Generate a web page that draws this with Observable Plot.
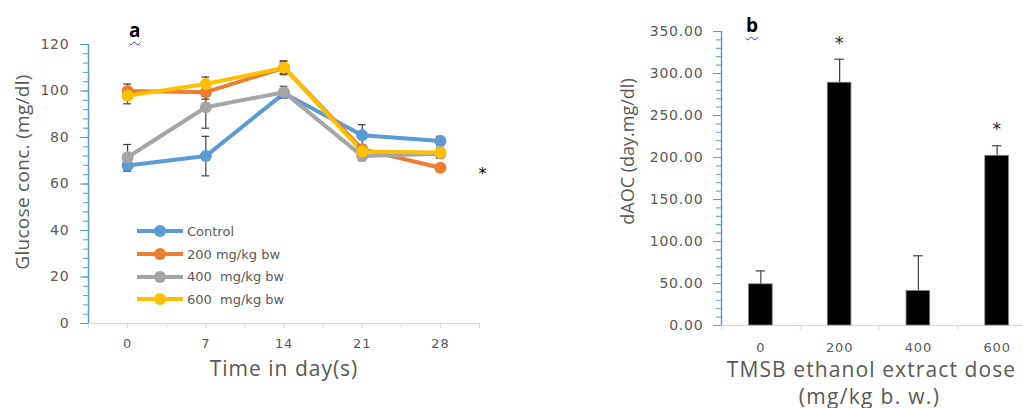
<!DOCTYPE html>
<html>
<head>
<meta charset="utf-8">
<script src="https://cdn.jsdelivr.net/npm/d3@7"></script>
<script src="https://cdn.jsdelivr.net/npm/@observablehq/plot@0.6"></script>
<style>
  html, body { margin: 0; padding: 0; background: #fff; }
  #wrap { position: relative; width: 1023px; height: 408px; overflow: hidden; font-family: "Open Sans", sans-serif; }
  #left { position: absolute; left: 0; top: 0; width: 500px; }
  #right { position: absolute; left: 600px; top: 0; width: 440px; }
  #left svg, #right svg { max-width: none !important; }
  .panel { position: absolute; font-weight: bold; font-size: 19px; color: #000; text-decoration: underline wavy #2a2aff; text-decoration-thickness: 1px; text-underline-offset: 4px; }
  #legend { position: absolute; left: 135px; top: 220px; font-family: "DejaVu Sans", sans-serif; font-size: 13px; color: #595959; }
  .li { display: flex; align-items: center; height: 22.7px; white-space: pre; }
  .li svg { margin-right: 2px; }
</style>
</head>
<body>
<div id="wrap">
  <div id="left"></div>
  <div id="right"></div>
  <div class="panel" style="left:129px; top:17px;">a</div>
  <div class="panel" style="left:746px; top:12px;">b</div>
  <div id="legend"></div>
</div>
<script>
// ---- Panel a data ----
const days = [0, 7, 14, 21, 28];
const seriesNames = ["Control", "200 mg/kg bw", "400  mg/kg bw", "600  mg/kg bw"];
const seriesColors = ["#5B9BD5", "#ED7D31", "#A5A5A5", "#FFC000"];
const control = [68, 72, 99, 81, 78.5];
const dose200 = [100, 99.5, 110, 75, 67];
const dose400 = [71.5, 93, 99.5, 72, 73];
const dose600 = [98, 103, 110, 74, 73.5];
const controlErr = [2.5, 8.5, 2, 4.5, 2];
const dose200Err = [3, 3, 2.5, 2, 1.5];
const dose400Err = [5.5, 9, 2.5, 2, 2];
const dose600Err = [3.5, 3, 3, 2, 2];
const yTicksA = [0, 20, 40, 60, 80, 100, 120];
const starA = [{day: 31.8, value: 64.5, label: "*"}];

// ---- Panel b data ----
const doses = [0, 200, 400, 600];
const dAOC = [49, 289, 41, 202];
const dAOCErr = [16, 28, 42, 12];
const stars = ["", "*", "", "*"];
const yTicksB = [0, 50, 100, 150, 200, 250, 300, 350];

const blue = "#5B9BD5";
const gridGray = "#d9d9d9";
const textGray = "#595959";

// Build table for panel a
const allSeries = [control, dose200, dose400, dose600];
const allErr = [controlErr, dose200Err, dose400Err, dose600Err];
const rowsA = [];
allSeries.forEach((vals, si) => {
  vals.forEach((v, i) => rowsA.push({series: seriesNames[si], day: days[i], value: v, err: allErr[si][i]}));
});

const capHalf = 0.35;
const titleFont = "'Open Sans', sans-serif";

const chartA = Plot.plot({
  width: 500, height: 408,
  marginLeft: 88, marginRight: 21, marginTop: 44, marginBottom: 85,
  style: {fontFamily: "'DejaVu Sans', sans-serif", fontSize: "13px", color: textGray, overflow: "visible", letterSpacing: "0.8px"},
  x: {domain: [-3.5, 31.5]},
  y: {domain: [0, 120]},
  color: {domain: seriesNames, range: seriesColors},
  marks: [
    Plot.ruleY([0], {stroke: gridGray, strokeWidth: 1.2}),
    Plot.axisX({ticks: d3.range(-3.5, 31.6, 3.5), tickSize: 5, tickFormat: () => "", stroke: gridGray, label: null}),
    Plot.axisX({ticks: days, tickSize: 0, tickPadding: 15, tickFormat: d => String(d), fill: textGray, fontSize: 13, label: null}),
    Plot.axisY({ticks: d3.range(0, 121, 4), tickSize: 5, tickFormat: () => "", stroke: blue, label: null}),
    Plot.axisY({ticks: yTicksA, tickSize: 8, tickPadding: 11, stroke: blue, fill: textGray, fontSize: 14, label: null}),
    Plot.ruleX([-3.5], {stroke: blue, strokeWidth: 1.5}),
    Plot.line(rowsA, {x: "day", y: "value", z: "series", stroke: "series", strokeWidth: 4}),
    Plot.ruleX(rowsA, {x: "day", y1: d => d.value - d.err, y2: d => d.value + d.err, stroke: "#404040", strokeWidth: 1.2}),
    Plot.ruleY(rowsA, {y: d => d.value + d.err, x1: d => d.day - capHalf, x2: d => d.day + capHalf, stroke: "#404040", strokeWidth: 1.2}),
    Plot.ruleY(rowsA, {y: d => d.value - d.err, x1: d => d.day - capHalf, x2: d => d.day + capHalf, stroke: "#404040", strokeWidth: 1.2}),
    Plot.dot(rowsA, {x: "day", y: "value", fill: "series", r: 6}),
    Plot.text(starA, {x: "day", y: "value", text: "label", fontSize: 16, fill: "#000", clip: false}),
    Plot.text(["Glucose conc. (mg/dl)"], {frameAnchor: "left", textAnchor: "middle", dx: -66, dy: -12, rotate: -90, fontSize: 19, fill: textGray, fontFamily: titleFont}),
    Plot.text(["Time in day(s)"], {frameAnchor: "bottom", textAnchor: "middle", dy: 52, fontSize: 21, fill: textGray, fontFamily: titleFont})
  ]
});
document.getElementById("left").appendChild(chartA);

// Legend (panel a)
const legend = document.getElementById("legend");
seriesNames.forEach((name, i) => {
  const row = document.createElement("div");
  row.className = "li";
  row.innerHTML = `<svg width="50" height="14"><line x1="2" x2="48" y1="7" y2="7" stroke="${seriesColors[i]}" stroke-width="4"/><circle cx="25" cy="7" r="6" fill="${seriesColors[i]}"/></svg>` ;
  const t = document.createElement("span");
  t.textContent = name;
  row.appendChild(t);
  legend.appendChild(row);
});

// Panel b table
const rowsB = doses.map((d, i) => ({dose: d, value: dAOC[i], err: dAOCErr[i], star: stars[i]}));
const halfBar = 30;
const chartB = Plot.plot({
  width: 440, height: 408,
  marginLeft: 121, marginRight: 4, marginTop: 31, marginBottom: 83,
  style: {fontFamily: "'DejaVu Sans', sans-serif", fontSize: "13px", color: textGray, overflow: "visible", letterSpacing: "0.8px"},
  x: {domain: [-100, 700]},
  y: {domain: [0, 350]},
  marks: [
    Plot.ruleY([0], {stroke: gridGray, strokeWidth: 1.2}),
    Plot.axisX({ticks: [-100, 100, 300, 500, 700], tickSize: 5, tickFormat: () => "", stroke: gridGray, label: null}),
    Plot.axisX({ticks: doses, tickSize: 0, tickPadding: 17, tickFormat: d => String(d), fill: textGray, fontSize: 13, label: null}),
    Plot.axisY({ticks: d3.range(0, 351, 10), tickSize: 5, tickFormat: () => "", stroke: blue, label: null}),
    Plot.axisY({ticks: yTicksB, tickSize: 8, tickPadding: 10, tickFormat: d3.format(".2f"), stroke: blue, fill: textGray, fontSize: 14, label: null}),
    Plot.ruleX([-100], {stroke: blue, strokeWidth: 1.5}),
    Plot.ruleX(rowsB, {x: "dose", y1: "value", y2: d => d.value + d.err, stroke: "#404040", strokeWidth: 1.2}),
    Plot.ruleY(rowsB, {y: d => d.value + d.err, x1: d => d.dose - 12, x2: d => d.dose + 12, stroke: "#404040", strokeWidth: 1.2}),
    Plot.rectY(rowsB, {x1: d => d.dose - halfBar, x2: d => d.dose + halfBar, y1: 0, y2: "value", fill: "#000", stroke: "#7f7f7f", strokeWidth: 0.8}),
    Plot.text(rowsB, {x: "dose", y: d => d.value + d.err, text: "star", dy: -16, fontSize: 17, fill: "#222"}),
    Plot.text(["dAOC (day.mg/dl)"], {frameAnchor: "left", textAnchor: "middle", dx: -93, dy: -27, rotate: -90, fontSize: 18, fill: textGray, fontFamily: titleFont}),
    Plot.text(["TMSB ethanol extract dose"], {frameAnchor: "bottom-left", textAnchor: "middle", dx: 150, dy: 51, fontSize: 21, fill: textGray, fontFamily: titleFont}),
    Plot.text(["(mg/kg b. w.)"], {frameAnchor: "bottom-left", textAnchor: "middle", dx: 148, dy: 78, fontSize: 21, fill: textGray, fontFamily: titleFont})
  ]
});
document.getElementById("right").appendChild(chartB);

// Per-title letter spacing to match the reference's wide lettering
const spacing = {
  "Glucose conc. (mg/dl)": "0.3px",
  "Time in day(s)": "1px",
  "dAOC (day.mg/dl)": "0px",
  "TMSB ethanol extract dose": "1.1px",
  "(mg/kg b. w.)": "1.3px"
};
[chartA, chartB].forEach(svg => {
  d3.select(svg).selectAll("text").each(function() {
    const s = spacing[this.textContent];
    if (s !== undefined) this.style.letterSpacing = s;
  });
});
</script>
</body>
</html>
